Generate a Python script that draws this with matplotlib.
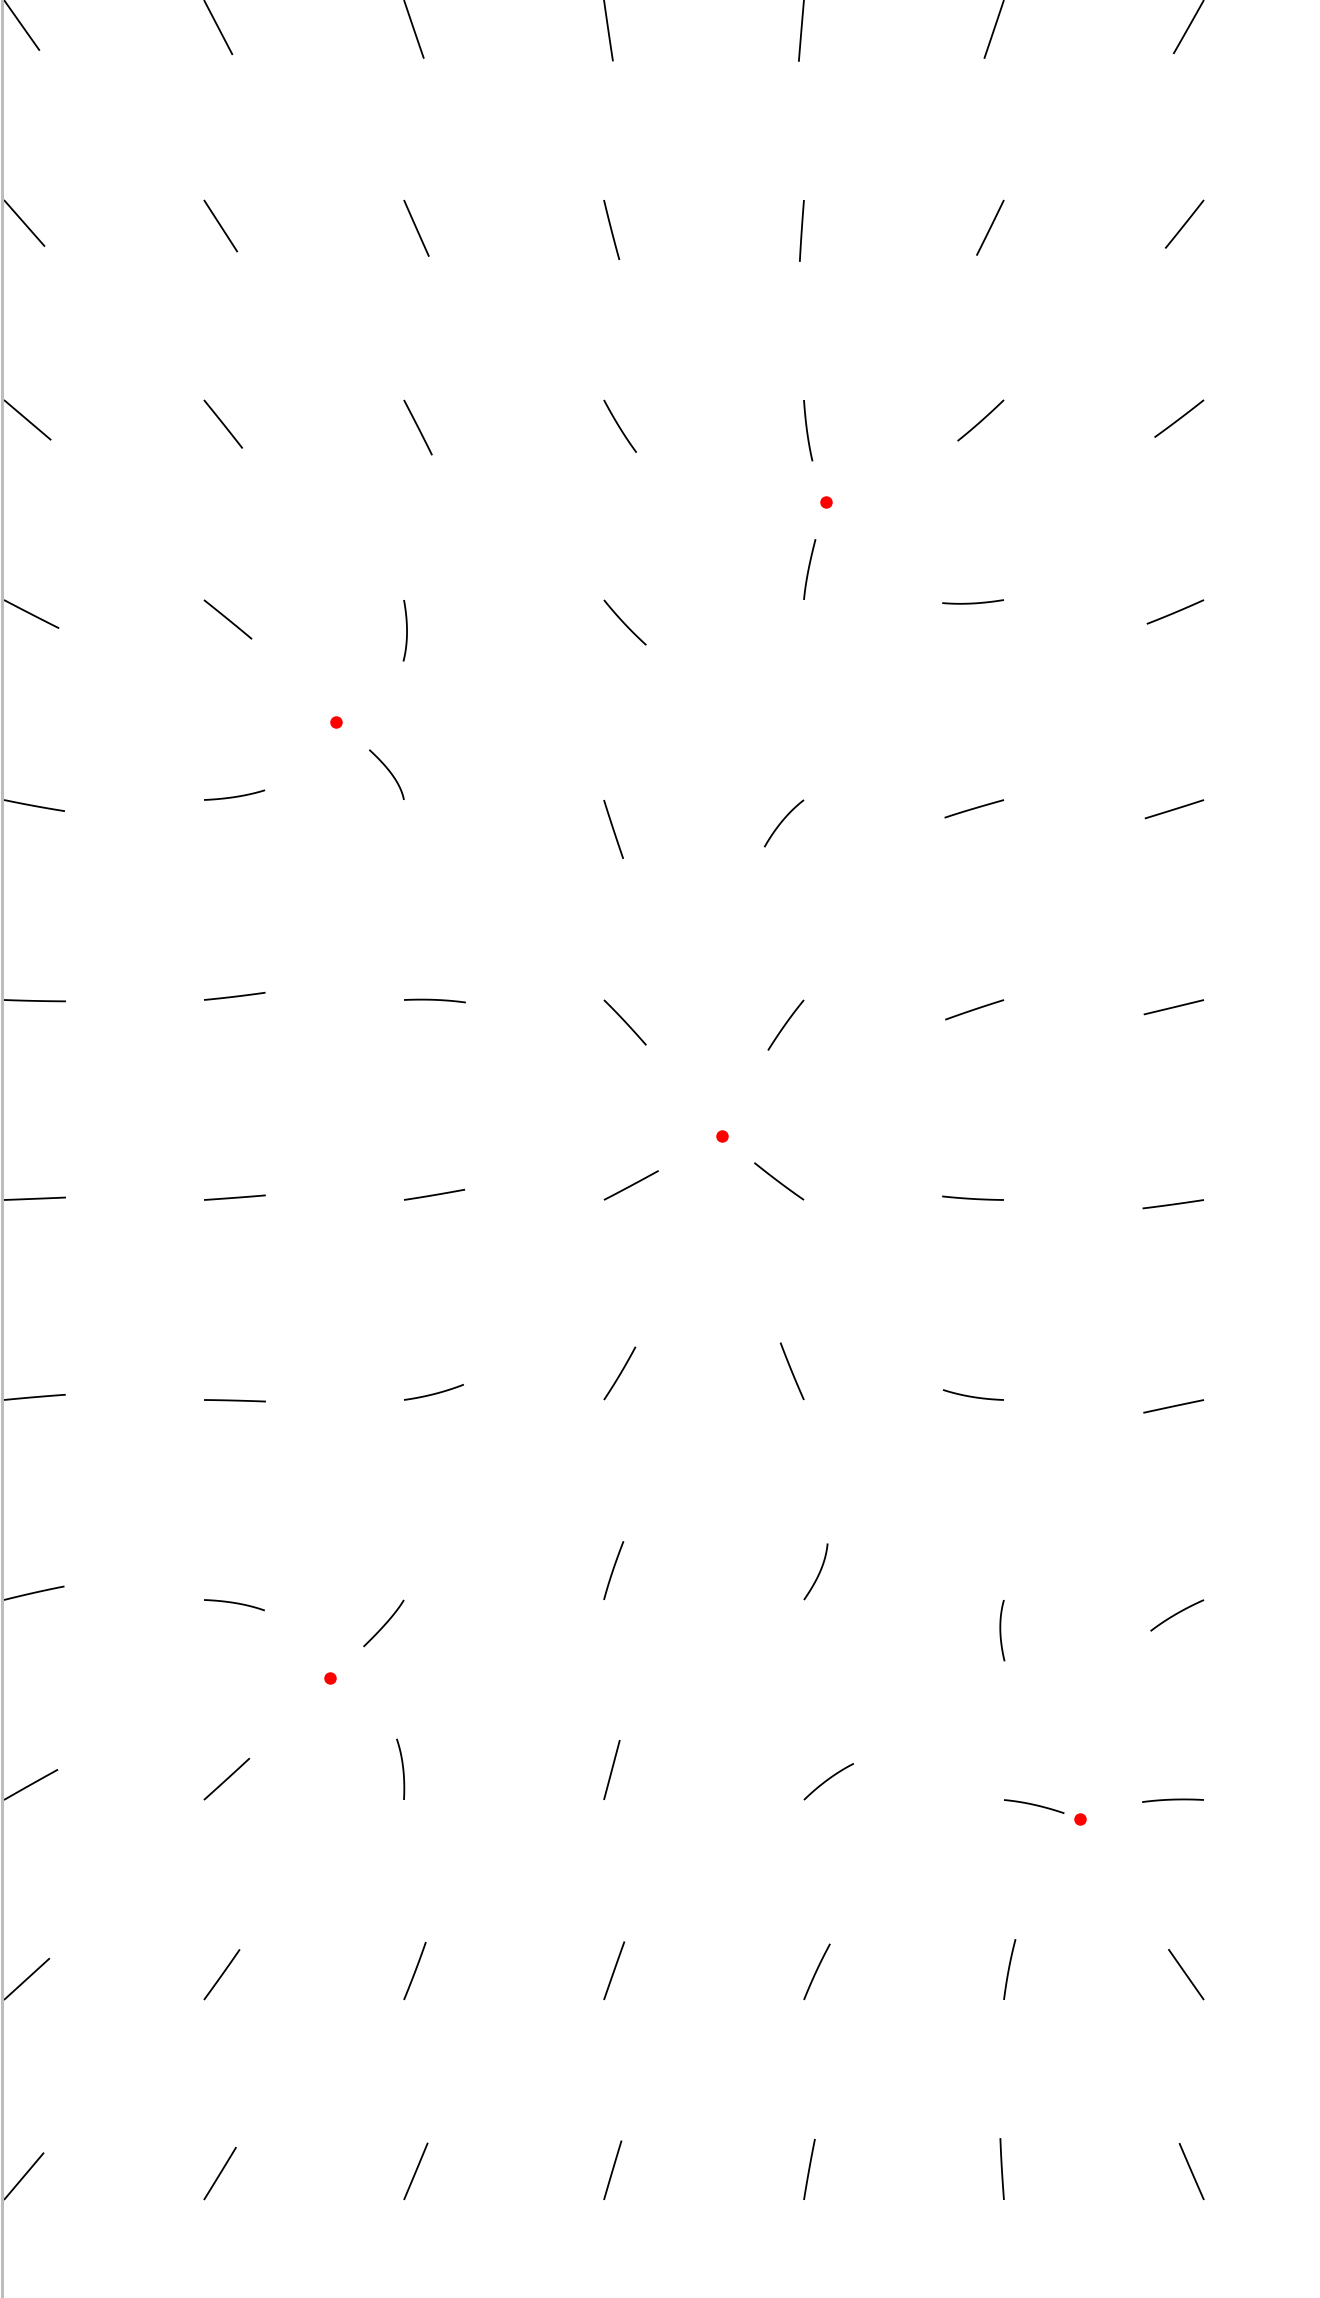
import numpy as np
import matplotlib.pyplot as plt
from matplotlib.lines import Line2D

# Rejilla de puntos de partida (columnas y filas)
grid_cols = np.arange(7)
grid_rows = np.arange(12)

# Sumideros (puntos rojos), en unidades de rejilla, y su intensidad
sink_x = np.array([4.11, 1.66, 3.59, 1.63, 5.38])
sink_y = np.array([2.51, 3.61, 5.68, 8.39, 9.095])
sink_q = np.array([1.00, 0.68, 1.15, 0.69, 1.36])

# Longitud de cada trazo
largo = 0.31


def campo(px, py):
    # dirección del campo 2D (1/r) hacia los sumideros
    dx = sink_x[None, :] - px[:, None]
    dy = sink_y[None, :] - py[:, None]
    r2 = dx * dx + dy * dy
    w = sink_q[None, :] / r2
    ex = (w * dx).sum(1)
    ey = (w * dy).sum(1)
    m = np.hypot(ex, ey)
    return ex / m, ey / m


def trazar(px, py, n=24):
    h = largo / n
    x, y = px.astype(float), py.astype(float)
    xs, ys = [x], [y]
    for _ in range(n):
        ex, ey = campo(x, y)
        ex, ey = campo(x + 0.5 * h * ex, y + 0.5 * h * ey)
        x = x + h * ex
        y = y + h * ey
        xs.append(x)
        ys.append(y)
    return np.array(xs), np.array(ys)


GX, GY = np.meshgrid(grid_cols, grid_rows)
px, py = GX.ravel(), GY.ravel()

fig = plt.figure(figsize=(13.2, 22.98), dpi=100)
ax = fig.add_axes([0, 0, 1, 1])
ax.set_xlim(-0.02, 6.58)
ax.set_ylim(11.49, 0)
ax.axis('off')

# Trazos del campo
xs, ys = trazar(px, py)
for k in range(len(px)):
    ax.plot(xs[:, k], ys[:, k], color='black', lw=1.3, solid_capstyle='butt')

# Sumideros
ax.plot(sink_x, sink_y, 'o', color='red', ms=9, mec='none')

# Borde gris a la izquierda
fig.add_artist(Line2D([1.5 / 1320] * 2, [0, 1], transform=fig.transFigure,
                      color='#bdbdbd', lw=2.2))

fig.savefig('out.png', dpi=100)
